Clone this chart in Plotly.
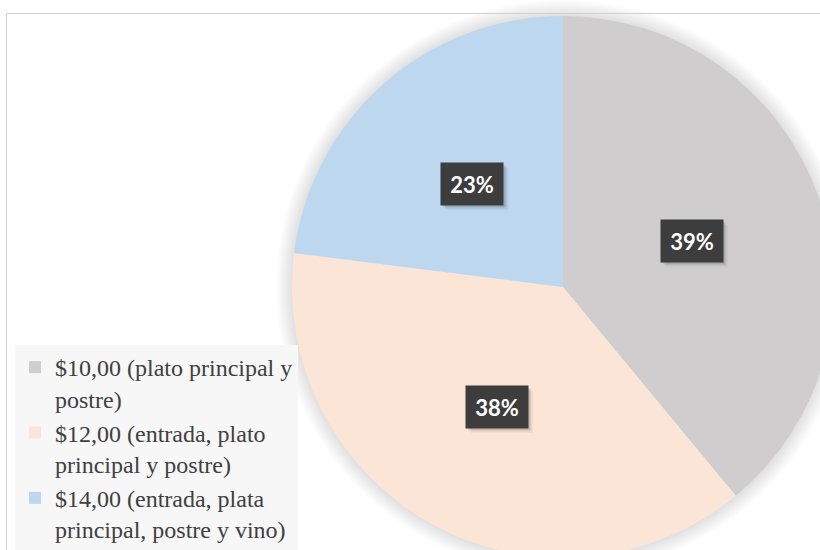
import math
import plotly.graph_objects as go

# ---- data ----
labels = [
    "$10,00 (plato principal y<br>postre)",
    "$12,00 (entrada, plato<br>principal y postre)",
    "$14,00 (entrada, plata<br>principal, postre y vino)",
]
values = [39, 38, 23]
colors = ["#cfcdce", "#fbe5d6", "#bdd7ee"]

# ---- layout geometry (pixels) ----
W, H = 860, 580
CX, CY, R = 563, 287, 271
BOX_W, BOX_H = 62, 42

def px_x(x):
    return x / W

def px_y(y):
    return 1 - y / H

fig = go.Figure()

fig.add_trace(go.Pie(
    labels=labels,
    values=values,
    marker=dict(colors=colors, line=dict(width=0)),
    sort=False,
    direction="clockwise",
    rotation=0,
    textinfo="none",
    hoverinfo="label+percent",
    domain=dict(x=[px_x(CX - R), px_x(CX + R)], y=[px_y(CY + R), px_y(CY - R)]),
    showlegend=True,
))

# soft glow around the pie
shapes = []
n_layers = 10
for i in range(n_layers):
    rr = R + 1.5 + i * 1.6
    shapes.append(dict(
        type="circle", xref="paper", yref="paper", layer="below",
        x0=px_x(CX - rr), x1=px_x(CX + rr), y0=px_y(CY + rr), y1=px_y(CY - rr),
        fillcolor="rgba(0,0,0,0.012)", line=dict(width=0),
    ))
# chart frame
shapes.append(dict(
    type="rect", xref="paper", yref="paper", layer="above",
    x0=px_x(6.5), x1=1.2, y0=-0.2, y1=px_y(13.5),
    line=dict(color="#d0d0d0", width=1), fillcolor="rgba(0,0,0,0)",
))

# percentage labels computed from the values
total = sum(values)
annotations = []
cum = 0
for v in values:
    mid = 2 * math.pi * (cum + v / 2) / total
    cum += v
    x = CX + 0.505 * R * math.sin(mid)
    y = CY - 0.505 * R * math.cos(mid)
    pct = round(100 * v / total)
    # drop shadow of the label box
    for k, op in enumerate([0.10, 0.07, 0.04]):
        off = 2 + k * 1.5
        shapes.append(dict(
            type="rect", xref="paper", yref="paper", layer="above",
            x0=px_x(x - BOX_W / 2 + off), x1=px_x(x + BOX_W / 2 + off),
            y0=px_y(y + BOX_H / 2 + off), y1=px_y(y - BOX_H / 2 + off),
            fillcolor=f"rgba(0,0,0,{op})", line=dict(width=0),
        ))
    annotations.append(dict(
        x=px_x(x), y=px_y(y), xref="paper", yref="paper",
        xanchor="center", yanchor="middle",
        text=f"<b>{pct}%</b>", showarrow=False,
        font=dict(family="Lato", size=22, color="white"),
        bgcolor="#3d3d3d", width=BOX_W - 2, height=BOX_H - 2, borderpad=1,
    ))

fig.update_layout(
    width=W, height=H,
    margin=dict(l=0, r=0, t=0, b=0),
    paper_bgcolor="white",
    plot_bgcolor="white",
    shapes=shapes,
    annotations=annotations,
    legend=dict(
        x=px_x(15), y=px_y(345), xanchor="left", yanchor="top",
        bgcolor="#f7f7f7",
        font=dict(family="Liberation Serif", size=24, color="#404040"),
        valign="top",
        traceorder="normal",
    ),
)

fig.write_html(
    "out.html",
    config={"displayModeBar": False},
    post_script="document.body.style.margin='0';document.body.style.overflow='hidden';document.documentElement.style.overflow='hidden';",
)
